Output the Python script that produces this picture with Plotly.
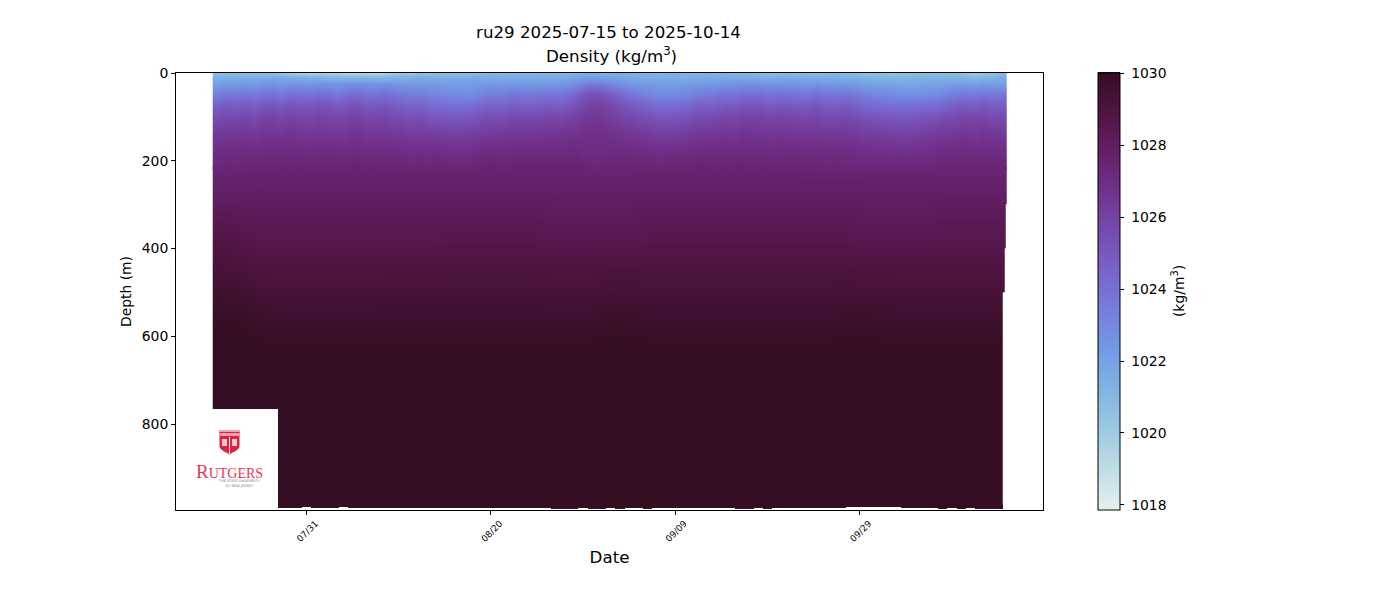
import plotly.graph_objects as go

# ---------- data (density minus 1000, kg/m3) ----------
# upper water column: one profile a day
upper_dates = [
    "2025-07-21","2025-07-22","2025-07-23","2025-07-24","2025-07-25","2025-07-26","2025-07-27","2025-07-28","2025-07-29","2025-07-30",
    "2025-07-31","2025-08-01","2025-08-02","2025-08-03","2025-08-04","2025-08-05","2025-08-06","2025-08-07","2025-08-08","2025-08-09",
    "2025-08-10","2025-08-11","2025-08-12","2025-08-13","2025-08-14","2025-08-15","2025-08-16","2025-08-17","2025-08-18","2025-08-19",
    "2025-08-20","2025-08-21","2025-08-22","2025-08-23","2025-08-24","2025-08-25","2025-08-26","2025-08-27","2025-08-28","2025-08-29",
    "2025-08-30","2025-08-31","2025-09-01","2025-09-02","2025-09-03","2025-09-04","2025-09-05","2025-09-06","2025-09-07","2025-09-08",
    "2025-09-09","2025-09-10","2025-09-11","2025-09-12","2025-09-13","2025-09-14","2025-09-15","2025-09-16","2025-09-17","2025-09-18",
    "2025-09-19","2025-09-20","2025-09-21","2025-09-22","2025-09-23","2025-09-24","2025-09-25","2025-09-26","2025-09-27","2025-09-28",
    "2025-09-29","2025-09-30","2025-10-01","2025-10-02","2025-10-03","2025-10-04","2025-10-05","2025-10-06","2025-10-07","2025-10-08",
    "2025-10-09","2025-10-10","2025-10-11","2025-10-12","2025-10-13","2025-10-14",
]
upper_times = [d + " 08:00" for d in upper_dates] + ["2025-10-14 18:00"]
upper_depths = [0, 10, 25, 45, 70, 100, 140, 180, 220, 221]

sig_0m = [20.8,20.7,20.9,20.6,20.8,20.6,20.7,20.3,20.0,19.7,
          19.5,19.8,19.6,19.9,19.4,19.3,19.6,19.2,19.5,20.0,
          20.3,20.1,20.6,20.4,20.7,20.5,20.8,20.6,20.9,21.0,
          21.1,20.9,21.2,21.0,21.1,21.2,21.0,21.2,21.1,21.3,
          21.4,21.5,21.3,21.5,21.4,21.3,21.2,21.3,21.2,21.3,
          21.2,21.1,21.2,21.3,21.2,21.3,21.1,21.2,21.0,20.9,
          20.7,20.8,21.0,20.9,21.0,20.8,21.0,21.1,20.9,21.0,
          20.7,20.5,20.6,20.4,20.6,20.7,20.8,20.9,20.8,20.9,
          20.8,20.4,20.0,20.3,20.6,20.9,21.0]
sig_10m = [21.3,21.4,21.3,21.5,21.4,21.5,21.6,21.5,21.4,21.4,
           21.1,21.2,21.0,21.1,20.9,21.0,21.0,21.1,20.9,21.2,
           21.3,21.3,21.5,21.4,21.5,21.4,21.5,21.5,21.6,21.5,
           21.6,21.5,21.5,21.5,21.5,21.5,21.6,21.5,21.6,21.8,
           22.0,22.0,21.9,21.8,21.7,21.6,21.5,21.5,21.4,21.5,
           21.5,21.5,21.6,21.6,21.7,21.6,21.7,21.6,21.5,21.4,
           21.4,21.5,21.5,21.5,21.4,21.5,21.4,21.4,21.4,21.4,
           21.2,21.1,21.1,21.1,21.1,21.1,21.2,21.2,21.3,21.3,
           21.2,21.1,20.9,21.1,21.2,21.4,21.5]
sig_25m = [22.1,22.3,22.2,22.5,22.3,22.5,22.7,22.4,22.7,22.6,
           22.5,22.7,22.6,22.4,22.7,22.8,22.6,22.5,22.7,22.5,
           22.4,22.3,22.4,22.2,22.3,22.2,22.2,22.2,22.3,22.3,
           22.4,22.3,22.5,22.4,22.4,22.4,22.5,22.5,22.6,22.9,
           23.5,23.7,23.4,23.0,22.7,22.4,22.3,22.3,22.2,22.2,
           22.2,22.2,22.3,22.4,22.4,22.6,22.6,22.7,22.8,22.7,
           22.5,22.7,22.6,22.5,22.4,22.6,22.4,22.4,22.4,22.3,
           22.1,22.0,21.9,22.0,21.9,21.8,21.9,21.9,21.9,22.0,
           22.2,22.2,22.1,22.3,22.2,22.2,22.2]
sig_45m = [23.3,23.6,23.5,23.7,23.4,23.8,23.9,23.6,23.9,23.8,
           23.7,24.0,23.8,23.6,23.9,24.1,23.8,23.7,24.0,23.7,
           23.5,23.3,23.4,23.1,23.0,22.8,22.8,22.7,22.9,23.2,
           23.4,23.3,23.6,23.5,23.4,23.6,23.7,23.6,23.9,24.4,
           25.1,25.3,25.0,24.6,24.0,23.6,23.3,23.0,22.8,22.8,
           22.9,23.0,23.3,23.4,23.5,23.8,23.7,23.9,24.0,23.9,
           23.7,23.9,23.8,23.7,23.6,23.9,23.7,23.6,23.7,23.5,
           23.2,23.0,22.9,22.8,22.6,22.6,22.6,22.7,22.8,23.0,
           23.3,23.5,23.4,23.6,23.5,23.6,23.6]
sig_70m = [24.6,24.8,24.7,24.9,24.6,25.0,25.0,24.8,25.1,24.9,
           24.9,25.1,25.0,24.8,25.0,25.2,24.9,24.9,25.0,24.8,
           24.6,24.4,24.5,24.2,24.1,24.0,23.9,23.9,24.1,24.4,
           24.5,24.4,24.7,24.6,24.6,24.7,24.8,24.7,24.9,25.3,
           25.8,26.0,25.8,25.5,25.1,24.8,24.5,24.2,24.0,24.0,
           24.1,24.2,24.5,24.6,24.6,24.9,24.8,25.0,25.0,25.0,
           24.8,25.0,24.9,24.8,24.8,25.0,24.8,24.7,24.8,24.6,
           24.3,24.2,24.0,24.0,23.9,23.9,23.9,24.0,24.1,24.4,
           24.6,24.8,24.7,24.9,24.7,24.8,24.8]
sig_100m = [25.5,25.7,25.6,25.8,25.5,25.9,25.9,25.7,25.9,25.8,
            25.7,25.9,25.8,25.7,25.8,26.0,25.7,25.7,25.8,25.6,
            25.5,25.3,25.4,25.1,25.1,25.0,25.0,25.0,25.2,25.4,
            25.5,25.4,25.7,25.6,25.6,25.7,25.8,25.7,25.9,26.1,
            26.4,26.5,26.3,26.1,25.8,25.7,25.4,25.3,25.1,25.1,
            25.2,25.3,25.5,25.6,25.6,25.8,25.7,25.9,25.9,25.9,
            25.7,25.9,25.8,25.7,25.7,25.8,25.6,25.6,25.7,25.5,
            25.3,25.2,25.1,25.1,25.0,25.0,25.1,25.2,25.3,25.5,
            25.6,25.8,25.7,25.8,25.6,25.6,25.6]
sig_140m = [26.4,26.5,26.4,26.6,26.4,26.6,26.6,26.5,26.7,26.5,
            26.5,26.6,26.5,26.5,26.5,26.7,26.5,26.5,26.5,26.4,
            26.4,26.2,26.3,26.2,26.1,26.1,26.1,26.1,26.2,26.3,
            26.4,26.4,26.5,26.5,26.5,26.5,26.6,26.6,26.7,26.7,
            26.9,26.9,26.8,26.7,26.6,26.5,26.4,26.3,26.1,26.1,
            26.2,26.3,26.4,26.5,26.5,26.6,26.5,26.7,26.6,26.6,
            26.5,26.6,26.5,26.5,26.5,26.5,26.4,26.4,26.4,26.4,
            26.2,26.2,26.1,26.1,26.0,26.0,26.1,26.2,26.3,26.4,
            26.4,26.6,26.4,26.6,26.5,26.4,26.4]
sig_180m = [27.0,27.1,27.0,27.1,27.0,27.1,27.1,27.1,27.1,27.1,
            27.0,27.1,27.1,27.1,27.0,27.2,27.0,27.1,27.0,27.1,
            27.0,26.9,27.0,26.9,27.0,26.9,26.9,26.9,27.0,27.1,
            27.1,27.0,27.1,27.1,27.1,27.1,27.2,27.1,27.2,27.2,
            27.0,27.0,27.1,27.1,27.1,27.1,27.0,27.0,26.9,27.0,
            27.0,27.0,27.1,27.1,27.1,27.1,27.1,27.2,27.1,27.1,
            27.0,27.1,27.1,27.1,27.0,27.1,27.0,27.1,27.0,27.0,
            26.9,26.9,26.9,26.8,26.9,26.8,26.9,26.9,27.0,27.0,
            27.0,27.1,27.0,27.1,27.0,27.0,27.0]
sig_220m = [27.4,27.5,27.4,27.5,27.5,27.5,27.5,27.6,27.5,27.6,
            27.5,27.6,27.5,27.6,27.5,27.6,27.5,27.6,27.5,27.6,
            27.5,27.5,27.5,27.5,27.5,27.5,27.5,27.5,27.5,27.6,
            27.6,27.5,27.6,27.6,27.6,27.6,27.6,27.6,27.6,27.6,
            27.5,27.4,27.5,27.5,27.5,27.5,27.5,27.5,27.4,27.5,
            27.5,27.5,27.6,27.6,27.5,27.6,27.5,27.6,27.5,27.6,
            27.5,27.5,27.5,27.5,27.5,27.5,27.4,27.5,27.4,27.4,
            27.4,27.4,27.4,27.4,27.4,27.4,27.4,27.4,27.5,27.5,
            27.5,27.5,27.5,27.5,27.5,27.5,27.5]

# lower water column: smoother, one profile every two days; the last ones stop short
lower_times = [
    "2025-07-21 20:00", "2025-07-23 20:00", "2025-07-25 20:00", "2025-07-27 20:00", "2025-07-29 20:00",
    "2025-07-31 20:00", "2025-08-02 20:00", "2025-08-04 20:00", "2025-08-06 20:00", "2025-08-08 20:00",
    "2025-08-10 20:00", "2025-08-12 20:00", "2025-08-14 20:00", "2025-08-16 20:00", "2025-08-18 20:00",
    "2025-08-20 20:00", "2025-08-22 20:00", "2025-08-24 20:00", "2025-08-26 20:00", "2025-08-28 20:00",
    "2025-08-30 20:00", "2025-09-01 20:00", "2025-09-03 20:00", "2025-09-05 20:00", "2025-09-07 20:00",
    "2025-09-09 20:00", "2025-09-11 20:00", "2025-09-13 20:00", "2025-09-15 20:00", "2025-09-17 20:00",
    "2025-09-19 20:00", "2025-09-21 20:00", "2025-09-23 20:00", "2025-09-25 20:00", "2025-09-27 20:00",
    "2025-09-29 20:00", "2025-10-01 20:00", "2025-10-03 20:00", "2025-10-05 20:00", "2025-10-07 20:00",
    "2025-10-09 20:00", "2025-10-11 20:00", "2025-10-13 20:00",
    "2025-10-14 08:00", "2025-10-14 15:30", "2025-10-14 18:30", "2025-10-14 21:30",
]
lower_depths = [225, 250, 350, 450, 550, 650, 750, 850, 980, 984]

sig_225m = [27.5,27.5,27.6,27.6,27.6,27.6,27.6,27.6,27.6,27.6,27.6,27.6,27.6,27.6,27.6,27.6,27.6,27.6,27.5,27.5,27.5,27.5,27.5,27.6,27.6,27.6,27.6,27.6,27.6,27.6,27.6,27.6,27.5,27.5,27.5,27.5,27.5,27.5,27.5,27.5,27.5,27.5,27.5,27.5,27.5,27.5,27.5]
sig_250m = [27.7,27.7,27.8,27.8,27.8,27.8,27.8,27.8,27.8,27.8,27.8,27.8,27.8,27.8,27.8,27.8,27.8,27.8,27.7,27.7,27.7,27.7,27.7,27.8,27.8,27.8,27.8,27.8,27.8,27.8,27.8,27.8,27.8,27.8,27.8,27.7,27.7,27.7,27.7,27.7,27.7,27.7,27.7,27.7,27.7,27.7,27.7]
sig_350m = [28.6,28.5,28.4,28.4,28.4,28.4,28.4,28.4,28.4,28.4,28.4,28.4,28.4,28.4,28.4,28.4,28.4,28.4,28.3,28.3,28.3,28.3,28.3,28.4,28.4,28.4,28.4,28.4,28.4,28.4,28.4,28.4,28.4,28.4,28.4,28.3,28.3,28.3,28.3,28.4,28.4,28.4,28.4,28.4,28.4,28.4,None]
sig_450m = [29.3,29.2,29.0,29.0,29.0,29.0,29.0,29.0,29.0,29.0,29.0,29.0,29.05,29.05,29.05,29.05,29.05,29.05,29.0,29.0,29.0,29.05,29.05,29.05,29.05,29.05,29.05,29.05,29.05,29.05,29.05,29.05,29.05,29.05,29.05,29.0,29.0,29.0,29.0,29.0,29.0,29.0,29.0,29.0,29.0,None,None]
sig_550m = [29.9,29.9,29.7,29.6,29.6,29.6,29.6,29.6,29.6,29.65,29.65,29.65,29.65,29.65,29.65,29.65,29.65,29.65,29.6,29.6,29.6,29.75,29.7,29.65,29.65,29.65,29.65,29.65,29.65,29.65,29.65,29.65,29.65,29.65,29.7,29.7,29.65,29.6,29.6,29.6,29.6,29.6,29.6,29.65,None,None,None]
sig_650m = [30.3,30.3,30.2,30.2,30.2,30.2,30.2,30.2,30.2,30.2,30.2,30.2,30.2,30.2,30.2,30.2,30.2,30.2,30.2,30.2,30.2,30.3,30.3,30.2,30.2,30.2,30.2,30.2,30.2,30.2,30.2,30.2,30.2,30.2,30.2,30.2,30.2,30.2,30.2,30.2,30.2,30.2,30.2,30.2,None,None,None]
sig_750m = [30.5] * 44 + [None] * 3
sig_850m = [30.7] * 44 + [None] * 3
sig_980m = [31.0] * 44 + [None] * 3

bottom_dates = upper_dates[6:]
bottom_depth = [
    990,991,990,991,989,990,991,990,989,990,991,990,991,992,991,990,992,991,990,991,991,990,992,991,
    991,990,991,992,991,992,992,993,993,993,992,993,993,992,993,992,992,993,991,992,991,992,992,991,
    991,992,992,993,993,992,993,992,991,992,992,991,991,990,990,989,989,989,989,988,989,991,992,992,
    992,993,992,993,992,993,993,993,
]

tick_dates = ["2025-07-31", "2025-08-20", "2025-09-09", "2025-09-29"]
tick_labels = ["07/31", "08/20", "09/09", "09/29"]
depth_ticks = [0, 200, 400, 600, 800]
density_ticks = [1018, 1020, 1022, 1024, 1026, 1028, 1030]

upper_rows = [sig_0m, sig_10m, sig_25m, sig_45m, sig_70m, sig_100m, sig_140m, sig_180m, sig_220m, sig_220m]
lower_rows = [sig_225m, sig_250m, sig_350m, sig_450m, sig_550m, sig_650m, sig_750m, sig_850m, sig_980m, sig_980m]


def to_density(rows):
    return [[None if v is None else 1000 + v for v in row] for row in rows]


# ---------- page geometry (the page body sits 8 px in from the window edge) ----------
PL, PR, PT, PB = 176, 1043, 73, 510
OFFSET = 8
FONT = "DejaVu Sans"
RED = "#e2203f"
ZMIN, ZMAX = 1017.87, 1030.03


def px(x):
    return (x - PL) / (PR - PL)


def py(y):
    return (PB - y) / (PB - PT)


fig = go.Figure()
fig.add_trace(go.Heatmap(
    x=lower_times, y=lower_depths, z=to_density(lower_rows),
    colorscale="dense", zmin=ZMIN, zmax=ZMAX, zsmooth="best", hoverongaps=False, showscale=False,
))
fig.add_trace(go.Heatmap(
    x=upper_times, y=upper_depths, z=to_density(upper_rows),
    colorscale="dense", zmin=ZMIN, zmax=ZMAX, zsmooth="best", hoverongaps=False,
    colorbar=dict(
        x=px(1097.5), xanchor="left", y=py(291), yanchor="middle", len=1, lenmode="fraction",
        thickness=22, thicknessmode="pixels", xpad=0, ypad=0,
        outlinewidth=1, outlinecolor="black",
        tickmode="array", tickvals=density_ticks,
        ticktext=["\u00a0" + str(t) for t in density_ticks],
        ticks="outside", ticklen=4, tickwidth=1,
        tickcolor="black", tickfont=dict(family=FONT, size=13.9, color="black"),
        title=dict(text="(kg/m<sup>3</sup>)", side="right", font=dict(family=FONT, size=13.9, color="black")),
    ),
))
fig.add_trace(go.Bar(
    x=bottom_dates, base=984, y=[d - 984 for d in bottom_depth], width=86400000,
    marker=dict(color="#360e24", line=dict(width=0)), showlegend=False, hoverinfo="skip",
))

# logo block (white panel, shield, wordmark)
shield = ("M {a} {t} L {b} {t} L {b} {m} C {b} {n} {c} {o} {c} {p} C {c} {o} {a} {n} {a} {m} Z").format(
    a=px(219.5), b=px(239.5), c=px(229.5), t=py(430), m=py(446), n=py(451), o=py(453), p=py(455))


def logo_rect(x0, x1, y0, y1, color):
    return dict(type="rect", xref="paper", yref="paper", x0=px(x0), x1=px(x1), y0=py(y1), y1=py(y0),
                fillcolor=color, line=dict(width=0), layer="above")


shapes = [
    logo_rect(176.5, 278, 409, 509, "white"),
    dict(type="path", xref="paper", yref="paper", path=shield, fillcolor=RED, line=dict(width=0), layer="above"),
    logo_rect(219.5, 239.5, 430, 436, "#f2a3ae"),
    logo_rect(219.5, 239.5, 432, 433, RED),
    logo_rect(229, 230, 437, 454, "white"),
    logo_rect(222, 227, 439, 446, "#f8c9d0"),
    logo_rect(232, 237, 439, 446, "#f8c9d0"),
]
annotations = [
    dict(text="Density (kg/m<sup>3</sup>)", xref="paper", yref="paper", x=px(611.5), y=py(55.5),
         xanchor="center", yanchor="middle", showarrow=False,
         font=dict(family=FONT, size=16.67, color="black")),
    dict(text='R<span style="font-size:14px">UTGERS</span>', xref="paper", yref="paper", x=px(229), y=py(471),
         xanchor="center", yanchor="middle", showarrow=False,
         font=dict(family="Liberation Serif", size=19, color="#e8354f")),
    dict(text="THE STATE UNIVERSITY<br>OF NEW JERSEY", xref="paper", yref="paper", x=px(239), y=py(483),
         xanchor="center", yanchor="middle", showarrow=False, align="center",
         font=dict(family=FONT, size=3.5, color="#777777")),
]

fig.update_layout(
    width=1400 - OFFSET, height=600 - OFFSET, autosize=False,
    margin=dict(l=PL - OFFSET, r=1400 - PR, t=PT - OFFSET, b=600 - PB, pad=0),
    paper_bgcolor="white", plot_bgcolor="white", showlegend=False, bargap=0,
    font=dict(family=FONT, color="black"),
    title=dict(
        text="ru29 2025-07-15 to 2025-10-14",
        x=px(608.5), xanchor="center", xref="paper", y=1 - 18 / 592, yanchor="top", yref="container",
        font=dict(family=FONT, size=16.67, color="black"),
    ),
    shapes=shapes, annotations=annotations,
    xaxis=dict(
        type="date", range=["2025-07-16 20:24", "2025-10-18 21:00"],
        tickmode="array", tickvals=tick_dates, ticktext=tick_labels, tickangle=-45,
        ticklabelshift=9, ticklabelstandoff=0,
        tickfont=dict(family=FONT, size=8.9, color="black"), ticks="outside", ticklen=4, tickwidth=1, tickcolor="black",
        showgrid=False, zeroline=False, showline=True, linecolor="black", linewidth=1, mirror=True,
        title=dict(text="Date", font=dict(family=FONT, size=16.67, color="black"), standoff=8),
    ),
    yaxis=dict(
        range=[995.5, 0], tickmode="array", tickvals=depth_ticks,
        tickfont=dict(family=FONT, size=13.9, color="black"), ticks="outside", ticklen=4, tickwidth=1, tickcolor="black",
        showgrid=False, zeroline=False, showline=True, linecolor="black", linewidth=1, mirror=True,
        title=dict(text="Depth (m)", font=dict(family=FONT, size=13.9, color="black"), standoff=6),
    ),
)

fig.write_html("out.html")
